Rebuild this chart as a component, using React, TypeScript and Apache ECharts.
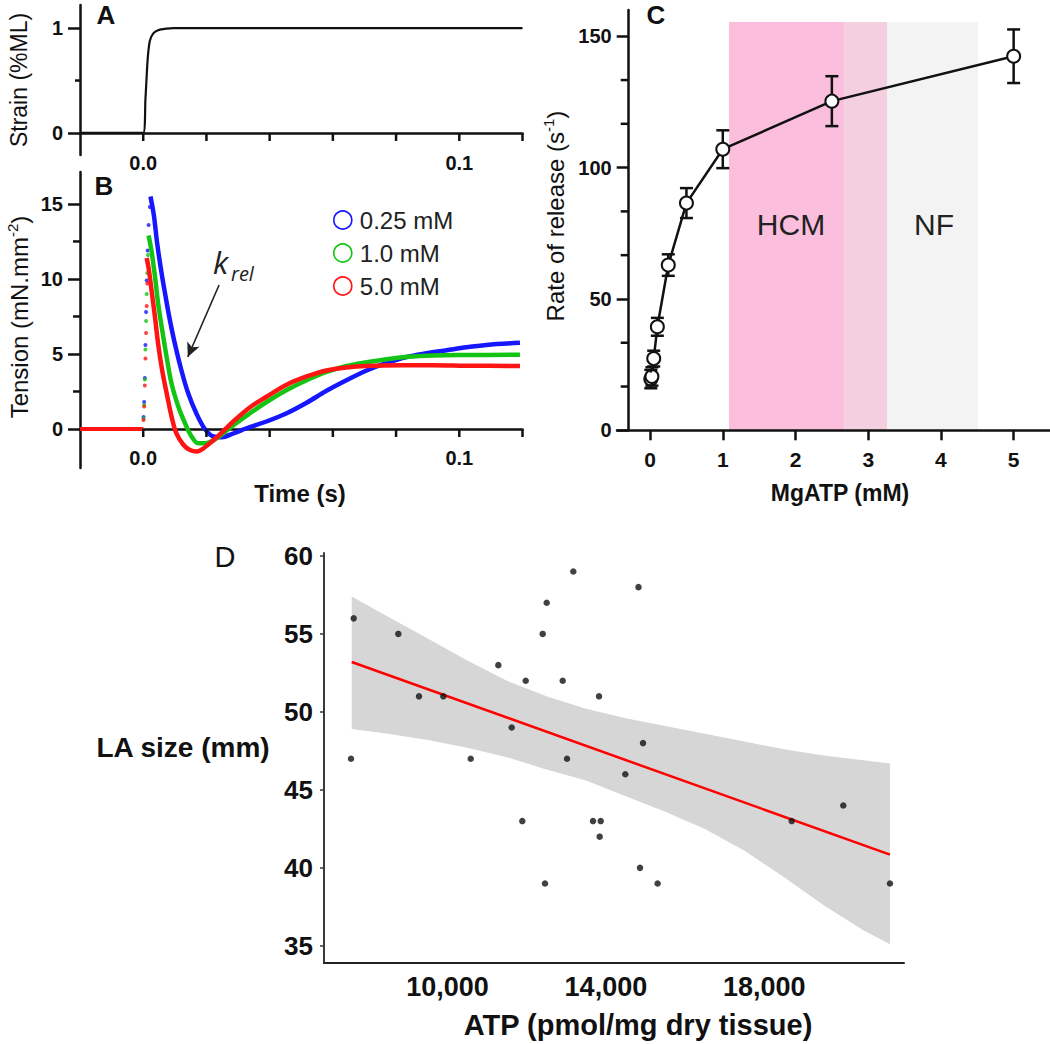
import React, { useEffect, useRef } from "react";
import * as echarts from "echarts";

const FONT = "'Liberation Sans', Arial, Helvetica, sans-serif";
const HUMAN = "'Open Sans', 'Noto Sans', sans-serif";

// ---------- Panel A : strain step ----------
const strainData: number[][] = [
  [-0.02, 0], [0, 0], [0.0007, 0.32], [0.0014, 0.7], [0.0021, 0.88], [0.0032, 0.95],
  [0.0047, 0.98], [0.0074, 0.995], [0.0095, 1], [0.12, 1],
];
const timeTicks = [0, 0.02, 0.04, 0.06, 0.08, 0.1, 0.12];
const timeLabels = [0, 0.1];
const strainTicks = [0, 1];
const strainMinor = [0.5];

// ---------- Panel B : tension transients ----------
const traceNames = ["0.25 mM", "1.0 mM", "5.0 mM"];
const traceColors = ["#1616ff", "#14c414", "#ff1414"];
const baseline: number[][] = [[-0.02, 0], [0, 0]];
const blueRise: number[][] = [
  [0.0001, 0.8], [0.0003, 1.8], [0.0005, 3.4], [0.0007, 5.6], [0.0009, 7.8], [0.0011, 9.9],
  [0.0014, 11.9], [0.0017, 13.6], [0.0021, 14.8],
];
const greenRise: number[][] = [
  [0.0001, 0.7], [0.0003, 1.6], [0.0005, 3.3], [0.0007, 5.3], [0.0009, 7.2], [0.0011, 9.0],
  [0.0013, 10.4], [0.0015, 11.6],
];
const redRise: number[][] = [
  [0.0001, 0.6], [0.0003, 1.5], [0.0005, 2.9], [0.0007, 4.7], [0.0009, 6.4], [0.0011, 8.2],
  [0.0013, 9.7],
];
const blueTrace: number[][] = [
  [0.0023, 15.5], [0.0034, 14.2], [0.0044, 12.4], [0.0058, 10.4], [0.0071, 8.8], [0.0084, 7.3],
  [0.01, 5.7], [0.0121, 3.9], [0.0142, 2.4], [0.0169, 1.0], [0.0195, 0.0], [0.0222, -0.5],
  [0.0248, -0.55], [0.0285, -0.3], [0.0327, 0.05], [0.039, 0.5], [0.0454, 1.05], [0.0517, 1.75],
  [0.058, 2.55], [0.0643, 3.25], [0.0707, 3.9], [0.077, 4.4], [0.0833, 4.8], [0.0897, 5.05],
  [0.096, 5.25], [0.1023, 5.45], [0.1086, 5.6], [0.1192, 5.75],
];
const greenTrace: number[][] = [
  [0.0017, 12.9], [0.0026, 11.9], [0.0037, 10.2], [0.0047, 8.4], [0.006, 6.6], [0.0074, 4.8],
  [0.009, 3.0], [0.0111, 1.5], [0.0132, 0.4], [0.0153, -0.5], [0.0174, -0.95], [0.0195, -0.95],
  [0.0222, -0.75], [0.0253, -0.3], [0.0285, 0.25], [0.0338, 1.05], [0.039, 1.8], [0.0454, 2.6],
  [0.0517, 3.25], [0.058, 3.8], [0.0643, 4.2], [0.0707, 4.45], [0.077, 4.65], [0.0833, 4.8],
  [0.0918, 4.9], [0.1023, 4.93], [0.1192, 4.95],
];
const redTrace: number[][] = [
  [0.0011, 11.4], [0.0018, 10.6], [0.0026, 9.3], [0.0037, 7.5], [0.0047, 5.7], [0.006, 3.9],
  [0.0074, 2.4], [0.009, 0.8], [0.0105, -0.3], [0.0127, -1.05], [0.0148, -1.4], [0.0169, -1.5],
  [0.019, -1.3], [0.0222, -0.75], [0.0253, -0.15], [0.0285, 0.5], [0.0338, 1.45], [0.039, 2.15],
  [0.0454, 2.95], [0.0517, 3.5], [0.058, 3.9], [0.0643, 4.1], [0.0707, 4.2], [0.0813, 4.25],
  [0.0918, 4.25], [0.1023, 4.22], [0.1192, 4.2],
];
const tensionTicks = [0, 5, 10, 15];
const tensionMinor = [2.5, 7.5, 12.5];
const arrowFrom = [0.024, 9.6];
const arrowTo = [0.0141, 4.8];

// ---------- Panel C : rate of release ----------
const mgatp = [0.01, 0.025, 0.05, 0.1, 0.25, 0.5, 1, 2.5, 5];
const rate = [19.5, 20.5, 27.3, 39.4, 62.9, 86.5, 107, 125.3, 142.4];
const rateErr = [3.5, 3.5, 3, 3.4, 4.1, 5.7, 7.2, 9.5, 10.2];
const hcmRange = [1.085, 3.26];
const nfRange = [2.67, 4.51];
const shadeTop = 155.4;
const rateTicks = [0, 50, 100, 150];
const rateMinor = [16.667, 33.333, 66.667, 83.333, 116.667, 133.333];
const mgTicks = [0, 1, 2, 3, 4, 5];

// ---------- Panel D : LA size vs ATP ----------
const atp = [
  7631, 8758, 9280, 9894, 7563, 10586, 11283, 11975, 11621, 11889, 12404, 12505, 13177, 12909,
  13018, 13826, 13674, 13869, 13843, 14490, 14823, 14861, 14937, 19995, 18692, 12462, 15306, 21174,
];
const laSize = [
  56, 55, 51, 51, 47, 47, 53, 52, 49, 43, 55, 57, 59, 52, 47, 51, 43, 43, 42, 46, 58, 40, 48, 44,
  43, 39, 39, 39,
];
const regX = [7581, 21174];
const regY = [53.2, 40.85];
const bandX = [7581, 8500, 9500, 10500, 11500, 12500, 13500, 14500, 15500, 16500, 17500, 18500, 19500, 20500, 21174];
const bandUpper = [57.4, 56.1, 54.7, 53.3, 52.0, 51.0, 50.2, 49.6, 49.1, 48.6, 48.1, 47.6, 47.2, 46.9, 46.7];
const bandLower = [48.9, 48.6, 48.2, 47.7, 47.1, 46.3, 45.6, 44.6, 43.6, 42.5, 41.1, 39.4, 37.6, 36.0, 35.1];
const laTicks = [35, 40, 45, 50, 55, 60];
const atpTicks = [10000, 14000, 18000];

// ---------- layout constants ----------
const T_MIN = -0.02, T_MAX = 0.12;
const AB_LEFT = 80, AB_WIDTH = 442.5;
const A_TOP = 5, A_MIN = -0.21, A_MAX = 1.22, A_H = 150;
const B_TOP = 172, B_MIN = -2.6, B_MAX = 17.13, B_H = 296;
const C_LEFT = 617, C_TOP = 10, C_XMIN = -0.455, C_XMAX = 5.5, C_W = 433, C_H = 420.3, C_YMAX = 160;
const C_AXIS_SHIFT = 11.7;

const tickFont = (size: number) => ({
  fontFamily: FONT,
  fontWeight: "bold" as const,
  fontSize: size,
  color: "#111",
});
const blackLine = (w: number) => ({ color: "#111", width: w });

function buildOption() {
  const timeAxis = (grid: number, offset: number, margin: number) => ({
    gridIndex: grid,
    type: "value",
    min: T_MIN,
    max: T_MAX,
    position: "bottom",
    offset,
    axisLine: { show: true, onZero: false, lineStyle: blackLine(2.5) },
    axisTick: { show: false },
    axisLabel: {
      ...tickFont(20),
      margin,
      customValues: timeLabels,
      formatter: (v: number) => v.toFixed(1),
    },
    splitLine: { show: false },
  });
  const yMain = (grid: number, min: number, max: number, ticks: number[], margin: number, extra: any = {}) => ({
    gridIndex: grid,
    type: "value",
    min,
    max,
    position: "left",
    axisLine: { show: true, onZero: false, lineStyle: blackLine(2.5) },
    axisTick: { show: true, length: 12, lineStyle: blackLine(2.5), customValues: ticks },
    axisLabel: { ...tickFont(20), margin, customValues: ticks },
    splitLine: { show: false },
    ...extra,
  });

  const xAxis: any[] = [
    timeAxis(0, -22, 20),
    timeAxis(1, -39, 19),
    {
      gridIndex: 2,
      type: "value",
      min: C_XMIN,
      max: C_XMAX,
      position: "bottom",
      z: 6,
      axisLine: { onZero: false, lineStyle: blackLine(2.5) },
      axisTick: { show: true, length: 10, lineStyle: blackLine(2.5), customValues: mgTicks },
      axisLabel: { ...tickFont(21), margin: 19, customValues: mgTicks },
      splitLine: { show: false },
    },
    {
      gridIndex: 3,
      type: "value",
      min: 6881,
      max: 21528,
      position: "bottom",
      axisLine: { onZero: false, lineStyle: { color: "#222", width: 2 } },
      axisTick: { show: false },
      axisLabel: {
        ...tickFont(27),
        margin: 10,
        customValues: atpTicks,
        formatter: (v: number) => v.toLocaleString("en-US"),
      },
      splitLine: { show: false },
    },
  ];

  const yAxis: any[] = [
    yMain(0, A_MIN, A_MAX, strainTicks, 17),
    yMain(1, B_MIN, B_MAX, tensionTicks, 17),
    yMain(2, 0, C_YMAX, rateTicks, 17, { offset: -C_AXIS_SHIFT, z: 6 }),
    {
      gridIndex: 3,
      type: "value",
      min: 33.9,
      max: 60.19,
      position: "left",
      axisLine: { show: true, onZero: false, lineStyle: { color: "#3a3a3a", width: 2 } },
      axisTick: { show: true, length: 4, lineStyle: { color: "#3a3a3a", width: 1.5 }, customValues: laTicks },
      axisLabel: { ...tickFont(26), margin: 11, customValues: laTicks },
      splitLine: { show: false },
    },
  ];

  const traces = [blueTrace, greenTrace, redTrace];
  const rises = [blueRise, greenRise, redRise];
  const series: any[] = [];

  // Panel A
  series.push({
    type: "line",
    xAxisIndex: 0,
    yAxisIndex: 0,
    data: strainData,
    showSymbol: false,
    smooth: 0.25,
    lineStyle: { color: "#111", width: 2.2 },
    itemStyle: { color: "#111" },
    silent: true,
  });

  // Panel B
  traceNames.forEach((name, i) => {
    series.push({
      type: "line",
      name,
      xAxisIndex: 1,
      yAxisIndex: 1,
      data: baseline,
      showSymbol: false,
      lineStyle: { color: traceColors[i], width: 4 },
      itemStyle: { color: traceColors[i] },
      z: 2 + i,
      silent: true,
    });
    series.push({
      type: "line",
      name,
      xAxisIndex: 1,
      yAxisIndex: 1,
      data: traces[i],
      showSymbol: false,
      smooth: 0.35,
      lineStyle: { color: traceColors[i], width: 4.5 },
      itemStyle: { color: traceColors[i] },
      z: 2 + i,
      silent: true,
    });
    series.push({
      type: "scatter",
      name,
      xAxisIndex: 1,
      yAxisIndex: 1,
      data: rises[i],
      symbolSize: 4,
      itemStyle: { color: traceColors[i] },
      z: 2 + i,
      silent: true,
    });
  });
  // arrow annotation (k_rel)
  series.push({
    type: "line",
    xAxisIndex: 1,
    yAxisIndex: 1,
    data: [],
    silent: true,
    markLine: {
      silent: true,
      animation: false,
      symbol: ["none", "arrow"],
      symbolSize: [10, 14],
      label: { show: false },
      lineStyle: { color: "#222", width: 1.6, type: "solid" },
      data: [[{ coord: arrowFrom }, { coord: arrowTo }]],
    },
  });

  // Panel C
  series.push({
    type: "line",
    xAxisIndex: 2,
    yAxisIndex: 2,
    data: mgatp.map((x, i) => [x, rate[i]]),
    symbol: "emptyCircle",
    symbolSize: 13,
    showSymbol: true,
    lineStyle: { color: "#111", width: 2.5 },
    itemStyle: { color: "#111", borderColor: "#111", borderWidth: 2 },
    z: 4,
    silent: true,
    markArea: {
      silent: true,
      label: { show: false },
      data: [
        [
          { xAxis: hcmRange[0], yAxis: 0, itemStyle: { color: "#fbbfdd" } },
          { xAxis: nfRange[0], yAxis: shadeTop },
        ],
        [
          { xAxis: nfRange[0], yAxis: 0, itemStyle: { color: "#f3cfe0" } },
          { xAxis: hcmRange[1], yAxis: shadeTop },
        ],
        [
          { xAxis: hcmRange[1], yAxis: 0, itemStyle: { color: "#f3f3f3" } },
          { xAxis: nfRange[1], yAxis: shadeTop },
        ],
      ],
    },
  });
  series.push({
    type: "custom",
    xAxisIndex: 2,
    yAxisIndex: 2,
    data: mgatp.map((x, i) => [x, rate[i] - rateErr[i], rate[i] + rateErr[i], rate[i]]),
    encode: { x: 0, y: [1, 2] },
    z: 5,
    silent: true,
    renderItem: (params: any, api: any) => {
      const x = api.value(0);
      const lo = api.coord([x, api.value(1)]);
      const hi = api.coord([x, api.value(2)]);
      const c = api.coord([x, api.value(3)]);
      const r = 6.5;
      const cap = 6.5;
      const st = { stroke: "#111", lineWidth: 2.5 };
      const children: any[] = [];
      if (c[1] - r > hi[1]) children.push({ type: "line", shape: { x1: c[0], y1: c[1] - r, x2: c[0], y2: hi[1] }, style: st });
      if (lo[1] > c[1] + r) children.push({ type: "line", shape: { x1: c[0], y1: c[1] + r, x2: c[0], y2: lo[1] }, style: st });
      children.push({ type: "line", shape: { x1: c[0] - cap, y1: hi[1], x2: c[0] + cap, y2: hi[1] }, style: st });
      children.push({ type: "line", shape: { x1: c[0] - cap, y1: lo[1], x2: c[0] + cap, y2: lo[1] }, style: st });
      return { type: "group", children };
    },
  });

  // Panel D
  series.push({
    type: "custom",
    xAxisIndex: 3,
    yAxisIndex: 3,
    data: [[bandX[0], bandLower[0]]],
    z: 1,
    silent: true,
    renderItem: (params: any, api: any) => {
      const up = bandX.map((x, i) => api.coord([x, bandUpper[i]]));
      const low = bandX.map((x, i) => api.coord([x, bandLower[i]])).reverse();
      return { type: "polygon", shape: { points: up.concat(low) }, style: { fill: "#d6d6d6" } };
    },
  });
  series.push({
    type: "line",
    xAxisIndex: 3,
    yAxisIndex: 3,
    data: regX.map((x, i) => [x, regY[i]]),
    showSymbol: false,
    lineStyle: { color: "#ff0000", width: 2.5 },
    itemStyle: { color: "#ff0000" },
    z: 3,
    silent: true,
  });
  series.push({
    type: "scatter",
    xAxisIndex: 3,
    yAxisIndex: 3,
    data: atp.map((x, i) => [x, laSize[i]]),
    symbolSize: 6.5,
    itemStyle: { color: "#111" },
    z: 4,
    silent: true,
  });

  const txt = (text: string, x: number, y: number, size: number, opts: any = {}) => ({
    type: "text",
    x,
    y,
    rotation: opts.rotation || 0,
    z: 50,
    silent: true,
    style: {
      text,
      fontFamily: opts.family || FONT,
      fontSize: size,
      fontWeight: opts.weight || "normal",
      fontStyle: opts.style || "normal",
      fill: opts.fill || "#111",
      align: opts.align || "center",
      verticalAlign: "middle",
      rich: opts.rich,
    },
  });

  const supRich = (size: number) => ({
    a: { fontFamily: FONT, fontSize: size, lineHeight: size + 4, fill: "#111", color: "#111" },
    s: { fontFamily: FONT, fontSize: Math.round(size * 0.62), lineHeight: Math.round(size * 0.62), verticalAlign: "top", color: "#111" },
  });

  // axis decoration: small tick marks placed from the layout scale constants
  const tPx = (t: number) => AB_LEFT + ((t - T_MIN) / (T_MAX - T_MIN)) * AB_WIDTH;
  const aPy = (v: number) => A_TOP + ((A_MAX - v) / (A_MAX - A_MIN)) * A_H;
  const bPy = (v: number) => B_TOP + ((B_MAX - v) / (B_MAX - B_MIN)) * B_H;
  const cPy = (v: number) => C_TOP + ((C_YMAX - v) / C_YMAX) * C_H;
  const cAxisX = C_LEFT + C_AXIS_SHIFT;
  const tick = (x1: number, y1: number, x2: number, y2: number) => ({
    type: "line",
    z: 60,
    silent: true,
    shape: { x1, y1, x2, y2 },
    style: { stroke: "#111", lineWidth: 2.5 },
  });
  const ticks: any[] = [
    ...timeTicks.map((t) => tick(tPx(t), aPy(0), tPx(t), aPy(0) + 8)),
    ...strainMinor.map((v) => tick(AB_LEFT, aPy(v), AB_LEFT - 5, aPy(v))),
    ...timeTicks.map((t) => tick(tPx(t), bPy(0), tPx(t), bPy(0) + 8)),
    ...tensionMinor.map((v) => tick(AB_LEFT, bPy(v), AB_LEFT - 7, bPy(v))),
    ...rateMinor.map((v) => tick(cAxisX, cPy(v), cAxisX - 8, cPy(v))),
  ];

  const graphic: any[] = [
    txt("A", 106, 15, 26, { weight: "bold" }),
    txt("B", 104, 186, 26, { weight: "bold" }),
    txt("C", 656, 15, 26, { weight: "bold" }),
    txt("D", 225, 557, 29),
    txt("Strain (%ML)", 19, 80, 23, { rotation: Math.PI / 2 }),
    txt("{a|Tension (mN.mm}{s|-2}{a|)}", 19, 317, 24, { rotation: Math.PI / 2, rich: supRich(24) }),
    txt("Time (s)", 300, 493, 24, { weight: "bold" }),
    txt("{a|Rate of release (s}{s|-1}{a|)}", 555, 216, 24, { rotation: Math.PI / 2, rich: supRich(24) }),
    txt("MgATP (mM)", 840, 493, 23, { weight: "bold" }),
    txt("HCM", 791, 224, 30, { fill: "#222" }),
    txt("NF", 934, 224, 30, { fill: "#222" }),
    txt("k", 213, 262, 31, { family: HUMAN, style: "italic", align: "left", fill: "#222" }),
    txt("rel", 231, 273, 20, { family: HUMAN, style: "italic", align: "left", fill: "#222" }),
    txt("LA size (mm)", 183, 747, 28, { weight: "bold" }),
    txt("ATP (pmol/mg dry tissue)", 638, 1025, 29, { weight: "bold" }),
    ...ticks,
  ];

  return {
    animation: false,
    backgroundColor: "#ffffff",
    grid: [
      { left: AB_LEFT, top: A_TOP, width: AB_WIDTH, height: A_H },
      { left: AB_LEFT, top: B_TOP, width: AB_WIDTH, height: B_H },
      { left: C_LEFT, top: C_TOP, width: C_W, height: C_H },
      { left: 324, top: 553, width: 580, height: 410 },
    ],
    xAxis,
    yAxis,
    legend: {
      show: true,
      orient: "vertical",
      left: 333,
      top: 208,
      padding: 0,
      itemGap: 9,
      itemWidth: 18,
      itemHeight: 18,
      icon: "circle",
      selectedMode: false,
      textStyle: { fontFamily: FONT, fontSize: 24, color: "#222", lineHeight: 24, padding: [0, 0, 0, 3] },
      data: traceNames.map((n, i) => ({
        name: n,
        itemStyle: { color: "rgba(255,255,255,0)", borderColor: traceColors[i], borderWidth: 1.6 },
      })),
    },
    series,
    graphic,
  };
}

export default function App() {
  const ref = useRef<HTMLDivElement>(null);
  useEffect(() => {
    if (!ref.current) return;
    document.body.style.margin = "0";
    const chart = echarts.init(ref.current, null, { renderer: "svg" });
    chart.setOption(buildOption() as any);
    return () => chart.dispose();
  }, []);
  return (
    <div
      ref={ref}
      style={{ position: "absolute", left: 0, top: 0, width: 1050, height: 1044, background: "#fff" }}
    />
  );
}
